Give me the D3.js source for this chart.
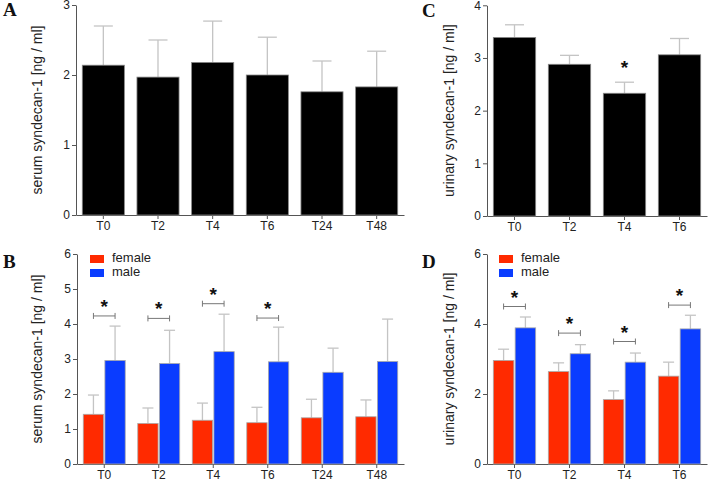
<!DOCTYPE html>
<html><head><meta charset="utf-8">
<script src="https://cdn.jsdelivr.net/npm/d3@7"></script>
<style>
body{margin:0;background:#fff;}
svg text{font-family:"Liberation Sans",Arial,sans-serif;}
</style></head>
<body><svg id="c" width="708" height="480"></svg>
<script>
// ---- data ----
const serumCats = ["T0","T2","T4","T6","T24","T48"];
const serumMean = [2.14,1.97,2.18,2.00,1.76,1.83];
const serumSD   = [0.56,0.53,0.59,0.54,0.44,0.51];
const serumFemale   = [1.42,1.16,1.25,1.18,1.32,1.35];
const serumFemaleSD = [0.55,0.44,0.49,0.44,0.53,0.48];
const serumMale     = [2.96,2.87,3.21,2.92,2.62,2.93];
const serumMaleSD   = [0.98,0.95,1.07,0.99,0.69,1.21];
const serumSigCats  = ["T0","T2","T4","T6"];
const serumSigLevel = [4.23,4.16,4.58,4.17];

const urineCats = ["T0","T2","T4","T6"];
const urineMean = [3.39,2.88,2.33,3.06];
const urineSD   = [0.24,0.17,0.21,0.31];
const urineStarCats  = ["T4"];
const urineStarLevel = [2.78];
const urineFemale   = [2.96,2.64,1.84,2.51];
const urineFemaleSD = [0.32,0.25,0.25,0.40];
const urineMale     = [3.89,3.15,2.91,3.86];
const urineMaleSD   = [0.31,0.26,0.26,0.39];
const urineSigCats  = ["T0","T2","T4","T6"];
const urineSigLevel = [4.50,3.74,3.50,4.54];

const ticksA = [0,1,2,3];
const ticksB = [0,1,2,3,4,5,6];
const ticksC = [0,1,2,3,4];
const ticksD = [0,2,4,6];
const sexes = ["female","male"];
const sexColor = {female:"#ff2a00", male:"#0a3cff"};

const svg = d3.select("#c");
const axisColor = "#555";
const errColor = "#c4c4c4";

function panel(o){
  const g = svg.append("g");
  const x = d3.scaleBand().domain(o.cats).range(o.xr).paddingInner(0.23).paddingOuter(0.115);
  const y = d3.scaleLinear().domain([0,o.ymax]).range(o.yr);
  const ya = g.append("g").attr("transform",`translate(${o.xr[0]},0)`)
    .call(d3.axisLeft(y).tickValues(o.ticks).tickFormat(d3.format("d")).tickSize(4).tickSizeOuter(0).tickPadding(2));
  const xa = g.append("g").attr("transform",`translate(0,${o.yr[0]})`)
    .call(d3.axisBottom(x).tickSize(4).tickSizeOuter(0).tickPadding(2));
  [ya,xa].forEach(a=>{
    a.selectAll("path,line").attr("stroke",axisColor).attr("stroke-width",1);
    a.selectAll("text").attr("fill","#222").style("font-size","12px");
  });
  g.append("text").attr("transform",`translate(${o.titleX},${(o.yr[0]+o.yr[1])/2}) rotate(-90)`)
    .attr("text-anchor","middle").attr("dominant-baseline","middle")
    .style("font-size","14px").attr("fill","#222").text(o.title);
  g.append("text").attr("x",o.letterX).attr("y",o.letterY)
    .style("font-family","'Liberation Serif','Times New Roman',serif")
    .style("font-size","19px").style("font-weight","bold").attr("fill","#111").text(o.letter);
  return {g,x,y};
}

function errBar(g,cx,y0,y1,half){
  g.append("line").attr("x1",cx).attr("x2",cx).attr("y1",y0).attr("y2",y1).attr("stroke",errColor).attr("stroke-width",1.3);
  g.append("line").attr("x1",cx-half).attr("x2",cx+half).attr("y1",y1).attr("y2",y1).attr("stroke",errColor).attr("stroke-width",1.3);
}

function single(o, means, sds){
  const {g,x,y} = panel(o);
  o.cats.forEach((c,i)=>{
    errBar(g, x(c)+x.bandwidth()/2, y(means[i]), y(means[i]+sds[i]), 9.5);
  });
  g.selectAll("rect.bar").data(o.cats).join("rect")
    .attr("x",c=>x(c)).attr("width",x.bandwidth())
    .attr("y",(c,i)=>y(means[i])).attr("height",(c,i)=>y(0)-y(means[i]))
    .attr("fill","#000").attr("stroke","#888").attr("stroke-width",0.8);
  return {g,x,y};
}

function grouped(o, fm, fsd, mm, msd, sigCats, sigLevel){
  const {g,x,y} = panel(o);
  const xi = d3.scaleBand().domain(sexes).range([0,x.bandwidth()]).paddingInner(0.06);
  const vals = {female:[fm,fsd], male:[mm,msd]};
  sexes.forEach(s=>{
    o.cats.forEach((c,i)=>{
      const cx = x(c)+xi(s)+xi.bandwidth()/2;
      errBar(g, cx, y(vals[s][0][i]), y(vals[s][0][i]+vals[s][1][i]), 5.5);
    });
    g.selectAll("rect."+s).data(o.cats).join("rect").attr("class",s)
      .attr("x",c=>x(c)+xi(s)).attr("width",xi.bandwidth())
      .attr("y",(c,i)=>y(vals[s][0][i])).attr("height",(c,i)=>y(0)-y(vals[s][0][i]))
      .attr("fill",sexColor[s]).attr("stroke","#aaa").attr("stroke-width",0.8);
  });
  sigCats.forEach((c,i)=>{
    const x1 = x(c)+xi("female")+xi.bandwidth()/2, x2 = x(c)+xi("male")+xi.bandwidth()/2;
    const yy = y(sigLevel[i]);
    g.append("path").attr("d",`M${x1},${yy-3}V${yy+3}M${x1},${yy}H${x2}M${x2},${yy-3}V${yy+3}`)
      .attr("stroke","#777").attr("stroke-width",1).attr("fill","none");
    g.append("text").attr("x",(x1+x2)/2).attr("y",yy-3).attr("text-anchor","middle")
      .style("font-size","19px").style("font-weight","bold").attr("fill","#111").text("*");
  });
  sexes.forEach((s,i)=>{
    g.append("rect").attr("x",o.legX).attr("y",o.legY+i*14).attr("width",14).attr("height",8).attr("fill",sexColor[s]);
    g.append("text").attr("x",o.legX+22).attr("y",o.legY+i*14+4).attr("dominant-baseline","middle")
      .style("font-size","13px").attr("fill","#222").text(s);
  });
}

single({cats:serumCats, xr:[76,404], yr:[215,5], ymax:3, ticks:ticksA,
  title:"serum syndecan-1 [ng / ml]", titleX:38, letter:"A", letterX:3, letterY:16}, serumMean, serumSD);

const pc = single({cats:urineCats, xr:[487,707], yr:[216,5.3], ymax:4, ticks:ticksC,
  title:"urinary syndecan-1 [ng / ml]", titleX:450, letter:"C", letterX:422, letterY:17}, urineMean, urineSD);
urineStarCats.forEach((c,i)=>{
  pc.g.append("text").attr("x",pc.x(c)+pc.x.bandwidth()/2).attr("y",pc.y(urineStarLevel[i])+4)
    .attr("text-anchor","middle").style("font-size","19px").style("font-weight","bold").attr("fill","#111").text("*");
});

grouped({cats:serumCats, xr:[77,404], yr:[464,254], ymax:6, ticks:ticksB,
  title:"serum syndecan-1 [ng / ml]", titleX:38, letter:"B", letterX:3, letterY:268, legX:90, legY:255},
  serumFemale, serumFemaleSD, serumMale, serumMaleSD, serumSigCats, serumSigLevel);

grouped({cats:urineCats, xr:[487,707], yr:[464,254], ymax:6, ticks:ticksD,
  title:"urinary syndecan-1 [ng / ml]", titleX:450, letter:"D", letterX:422, letterY:268, legX:499, legY:255},
  urineFemale, urineFemaleSD, urineMale, urineMaleSD, urineSigCats, urineSigLevel);
</script></body></html>
